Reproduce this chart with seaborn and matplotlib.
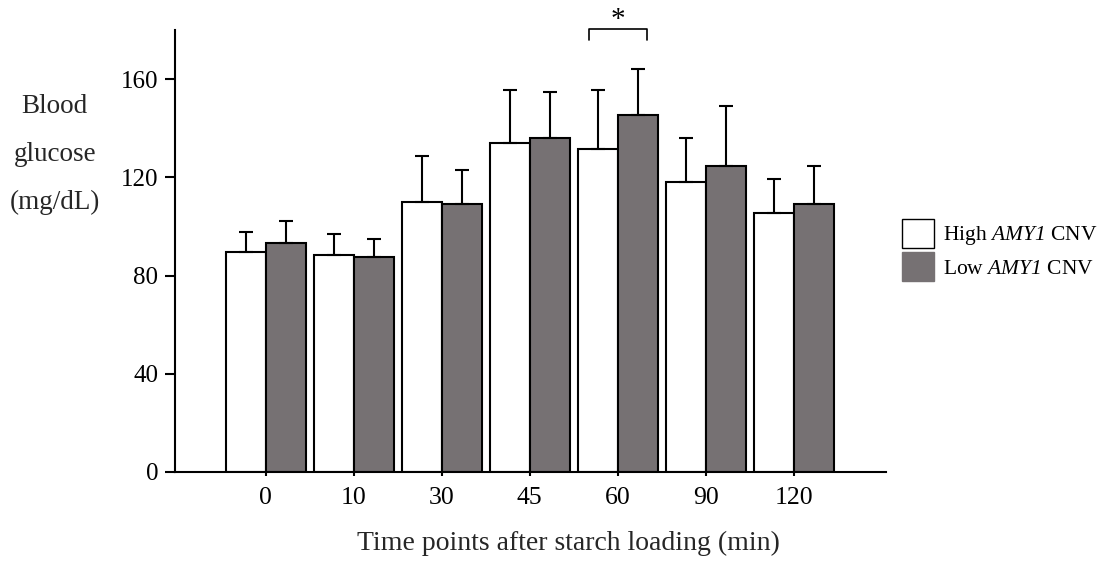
import numpy as np
import pandas as pd
import seaborn as sns
import matplotlib.pyplot as plt
from matplotlib.patches import Patch

# datos
times = ["0", "10", "30", "45", "60", "90", "120"]
groups = ["High", "Low"]
high_mean = [89.5, 88.3, 109.8, 134.1, 131.4, 118.3, 105.3]
high_sd = [8.3, 8.6, 18.7, 21.5, 24.1, 17.7, 14.0]
low_mean = [93.2, 87.4, 109.0, 135.9, 145.2, 124.8, 109.0]
low_sd = [9.2, 7.6, 13.9, 18.8, 18.8, 24.2, 15.8]
legend_labels = [r"High $\mathit{AMY1}$ CNV", r"Low $\mathit{AMY1}$ CNV"]
colors = ["white", "#767173"]

df = pd.DataFrame({
    "time": times * 2,
    "group": ["High"] * len(times) + ["Low"] * len(times),
    "glucose": high_mean + low_mean,
})

sns.set_theme(style="ticks")
plt.rcParams['font.family'] = ['Liberation Serif', 'DejaVu Serif']
plt.rcParams['mathtext.fontset'] = 'custom'
plt.rcParams['mathtext.rm'] = 'Liberation Serif:italic'  # para que el "1" salga en cursiva
plt.rcParams['mathtext.it'] = 'Liberation Serif:italic'
plt.rcParams['text.color'] = 'black'
plt.rcParams['axes.edgecolor'] = 'black'

fig = plt.figure(figsize=(10.98, 5.61), dpi=100)
ax = fig.add_axes([175 / 1098, 1 - 472 / 561, (886 - 175) / 1098, (472 - 30) / 561])

sns.barplot(data=df, x="time", y="glucose", hue="group", order=times, hue_order=groups,
            palette=colors, saturation=1, edgecolor="black", linewidth=1.5,
            width=0.91, errorbar=None, legend=False, ax=ax)

# barras de error solo hacia arriba
for cont, means, sds in zip(ax.containers, [high_mean, low_mean], [high_sd, low_sd]):
    xs = [p.get_x() + p.get_width() / 2 for p in cont]
    ax.errorbar(xs, means, yerr=[np.zeros(len(sds)), sds], fmt='none', ecolor='black',
                elinewidth=1.5, capsize=5, capthick=1.5, zorder=1)

ax.set_ylim(0, 180)
ax.set_xlim(-1.03, 7.05)
ax.set_yticks([0, 40, 80, 120, 160])
sns.despine(ax=ax)
for s in ["left", "bottom"]:
    ax.spines[s].set_linewidth(1.5)
ax.tick_params(axis='y', length=7, width=1.5, pad=5, labelsize=18, colors='black')
ax.tick_params(axis='x', length=3, width=1.5, pad=8, labelsize=18.5, colors='black')

ax.set_xlabel("Time points after starch loading (min)", fontsize=20)
ax.xaxis.set_label_coords(0.554, -0.132)
ax.set_ylabel("Blood\nglucose\n(mg/dL)", rotation=0, fontsize=19.5, linespacing=2.2,
              ha='center', va='center')
ax.yaxis.set_label_coords(-0.169, 0.719)

# corchete de significancia en 60 min
i60 = times.index("60")
top = low_mean[i60] + low_sd[i60]
x0, x1 = i60 - 0.33, i60 + 0.33
ax.plot([x0, x0, x1, x1], [top + 12, top + 16.5, top + 16.5, top + 12],
        color='black', lw=1.2, clip_on=False)
ax.text(i60, top + 14.8, "*", ha='center', va='bottom', fontsize=21, clip_on=False)

handles = [Patch(facecolor=colors[0], edgecolor='black', linewidth=1.0),
           Patch(facecolor=colors[1], edgecolor=colors[1])]
fig.legend(handles, legend_labels, loc='center left',
           bbox_to_anchor=(902 / 1098, 1 - 250 / 561), frameon=False, fontsize=15.5,
           handlelength=1.5, handleheight=1.72, handletextpad=0.4, labelspacing=0.2,
           borderpad=0, borderaxespad=0)

fig.savefig("out.png", dpi=100)
